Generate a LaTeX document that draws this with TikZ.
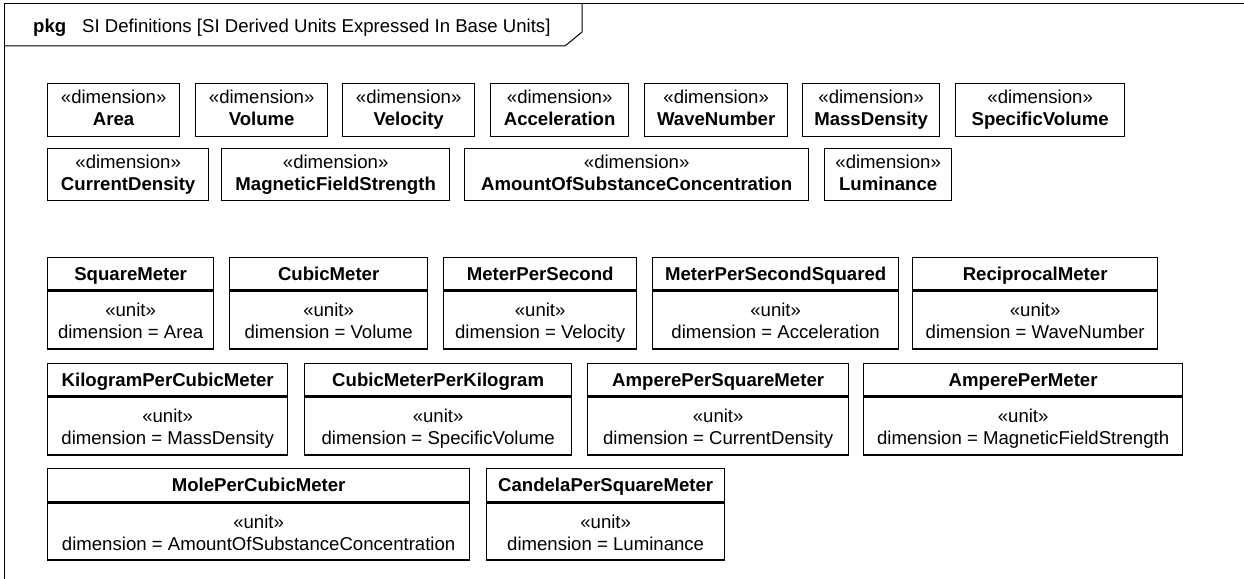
\documentclass[tikz,border=0pt]{standalone}
\usepackage{fontspec}
\setmainfont{Liberation Sans}
\newcommand\myhs[1]{\rule{0pt}{#1}}
\newcommand\myds[1]{\rule[-#1]{0pt}{#1}}
\newcommand\dimtxt[1]{\myhs{14pt}«dimension»\\\textbf{#1}\myds{5pt}}
\newcommand\unittxt[1]{\myhs{20pt}«unit»\\dimension = #1\myds{4pt}}
\newcommand\headtxt[1]{\myhs{17.4pt}#1\myds{4pt}}
\begin{document}
\begin{tikzpicture}[x=1pt,y=-1pt,
  frameline/.style={draw=black, line width=1pt},
  dimbox/.style={draw=black, line width=1.3pt, fill=white, inner sep=0pt, anchor=north west,
    minimum height=53pt, align=center, font=\fontsize{18.6}{22}\selectfont},
  headbox/.style={draw=black, line width=1.3pt, fill=white, inner sep=0pt, anchor=north west,
    minimum height=32pt, align=center, font=\fontsize{18.6}{22}\selectfont\bfseries},
  bodybox/.style={draw=black, line width=1.3pt, fill=white, inner sep=0pt, anchor=north west,
    minimum height=58pt, align=center, font=\fontsize{18.6}{22}\selectfont},
  titletext/.style={inner sep=0pt, anchor=base west, font=\fontsize{18.6}{22}\selectfont}
]
\useasboundingbox (0,0) rectangle (1244,578);
\clip (0,0) rectangle (1244,578);
\fill[white] (0,0) rectangle (1244,578);
% frame
\draw[frameline] (4,600) -- (4,4) -- (1270,4);
\draw[frameline] (582,4) -- (582,32) -- (565,46) -- (4,46);
\node[titletext, font=\fontsize{18.6}{22}\selectfont\bfseries] (pkg) at (33,32.5) {pkg};
\node[titletext] (title) at (82,32.5) {SI Definitions [SI Derived Units Expressed In Base Units]};

% dimension row 1
\node[dimbox, minimum width=132pt] (dArea) at (47,83) {\dimtxt{Area}};
\node[dimbox, minimum width=132pt] (dVolume) at (195,83) {\dimtxt{Volume}};
\node[dimbox, minimum width=132pt] (dVelocity) at (342,83) {\dimtxt{Velocity}};
\node[dimbox, minimum width=138pt] (dAccel) at (490,83) {\dimtxt{Acceleration}};
\node[dimbox, minimum width=143pt] (dWave) at (644,83) {\dimtxt{WaveNumber}};
\node[dimbox, minimum width=137pt] (dMass) at (802,83) {\dimtxt{MassDensity}};
\node[dimbox, minimum width=169pt] (dSpec) at (955,83) {\dimtxt{SpecificVolume}};
% dimension row 2
\node[dimbox, minimum width=161pt, minimum height=52pt] (dCurr) at (47,148) {\dimtxt{CurrentDensity}};
\node[dimbox, minimum width=228pt, minimum height=52pt] (dMag) at (221,148) {\dimtxt{MagneticFieldStrength}};
\node[dimbox, minimum width=344pt, minimum height=52pt] (dAmount) at (464,148) {\dimtxt{AmountOfSubstanceConcentration}};
\node[dimbox, minimum width=127pt, minimum height=52pt] (dLum) at (824,148) {\dimtxt{Luminance}};

% unit row 1
\node[headbox, minimum width=166pt] (uSqM) at (47,257) {\headtxt{SquareMeter}};
\node[bodybox, minimum width=166pt] (uSqMb) at (uSqM.south west) {\unittxt{Area}};
\node[headbox, minimum width=198pt] (uCuM) at (229,257) {\headtxt{CubicMeter}};
\node[bodybox, minimum width=198pt] (uCuMb) at (uCuM.south west) {\unittxt{Volume}};
\node[headbox, minimum width=193pt] (uMPS) at (443,257) {\headtxt{MeterPerSecond}};
\node[bodybox, minimum width=193pt] (uMPSb) at (uMPS.south west) {\unittxt{Velocity}};
\node[headbox, minimum width=246pt] (uMPSS) at (652,257) {\headtxt{MeterPerSecondSquared}};
\node[bodybox, minimum width=246pt] (uMPSSb) at (uMPSS.south west) {\unittxt{Acceleration}};
\node[headbox, minimum width=245pt] (uRM) at (912,257) {\headtxt{ReciprocalMeter}};
\node[bodybox, minimum width=245pt] (uRMb) at (uRM.south west) {\unittxt{WaveNumber}};

% unit row 2
\node[headbox, minimum width=240pt] (uKPCM) at (47,363) {\headtxt{KilogramPerCubicMeter}};
\node[bodybox, minimum width=240pt] (uKPCMb) at (uKPCM.south west) {\unittxt{MassDensity}};
\node[headbox, minimum width=267pt] (uCMPK) at (304,363) {\headtxt{CubicMeterPerKilogram}};
\node[bodybox, minimum width=267pt] (uCMPKb) at (uCMPK.south west) {\unittxt{SpecificVolume}};
\node[headbox, minimum width=261pt] (uAPSM) at (587,363) {\headtxt{AmperePerSquareMeter}};
\node[bodybox, minimum width=261pt] (uAPSMb) at (uAPSM.south west) {\unittxt{CurrentDensity}};
\node[headbox, minimum width=319pt] (uAPM) at (863,363) {\headtxt{AmperePerMeter}};
\node[bodybox, minimum width=319pt] (uAPMb) at (uAPM.south west) {\unittxt{MagneticFieldStrength}};

% unit row 3
\node[headbox, minimum width=422pt, minimum height=33pt] (uMPCM) at (47,468) {\headtxt{MolePerCubicMeter}};
\node[bodybox, minimum width=422pt, minimum height=57pt] (uMPCMb) at (uMPCM.south west) {\unittxt{AmountOfSubstanceConcentration}};
\node[headbox, minimum width=238pt, minimum height=33pt] (uCPSM) at (486,468) {\headtxt{CandelaPerSquareMeter}};
\node[bodybox, minimum width=238pt, minimum height=57pt] (uCPSMb) at (uCPSM.south west) {\unittxt{Luminance}};
\end{tikzpicture}
\end{document}
